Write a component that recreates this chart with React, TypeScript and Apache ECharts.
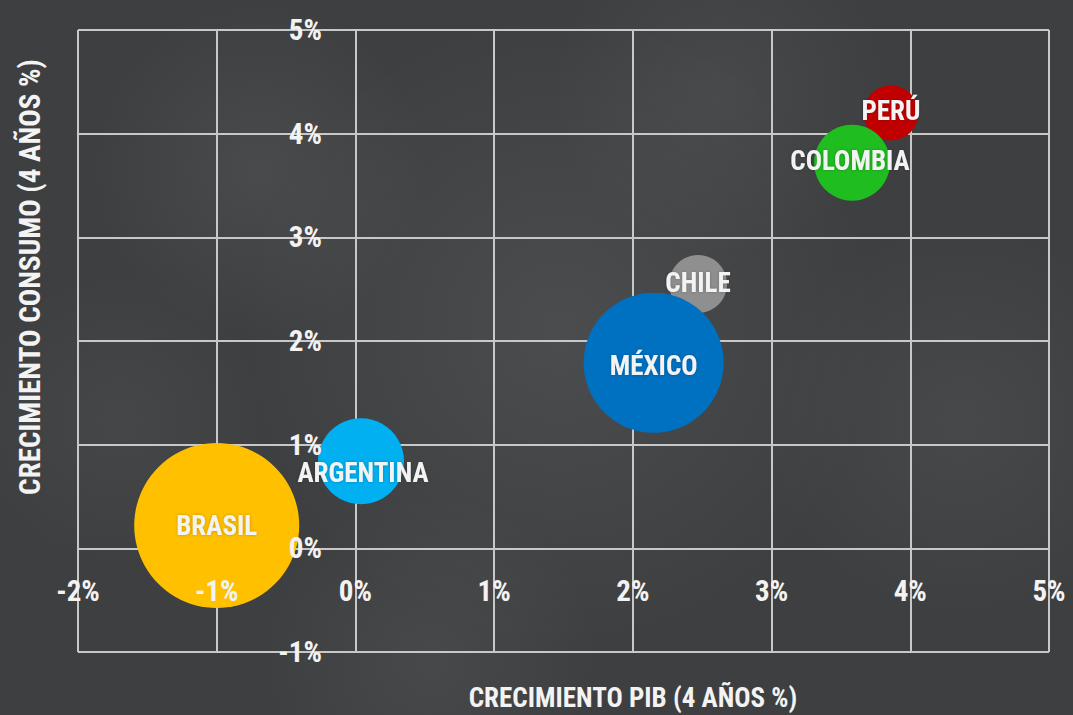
import React, { useEffect, useRef } from "react";
import * as echarts from "echarts";

// ---- Data ----
const countries = ["PERÚ", "CHILE", "COLOMBIA", "MÉXICO", "ARGENTINA", "BRASIL"];
const gdpGrowth = [3.86, 2.47, 3.58, 2.15, 0.04, -1.0]; // x, %
const consumptionGrowth = [4.2, 2.55, 3.72, 1.79, 0.84, 0.22]; // y, %
const bubbleSize = [55, 58, 76, 140, 86, 165];
const bubbleColors = ["#c00000", "#8f8f8f", "#1fbd1f", "#0070c0", "#00b0f0", "#ffc000"];
const labelOffsets = [[0, -2], [0, -1], [-2, -2], [0, 3], [2, 12], [0, 0]];

const xMin = -2, xMax = 5, yMin = -1, yMax = 5, tickStep = 1;
const xAxisTitle = "CRECIMIENTO PIB (4 AÑOS %)";
const yAxisTitle = "CRECIMIENTO CONSUMO (4 AÑOS %)";

const FONT = "'Roboto Condensed', 'Open Sans Condensed', sans-serif";
const TEXT_COLOR = "#f3f3f3";

const clouds = [
  { x: 560, y: 330, r: 320, a: 0.07 },
  { x: 260, y: 170, r: 170, a: 0.06 },
  { x: 960, y: 420, r: 200, a: 0.05 },
  { x: 720, y: 90, r: 170, a: 0.05 },
  { x: 430, y: 660, r: 170, a: 0.05 },
  { x: 120, y: 420, r: 150, a: 0.04 },
];

export default function App() {
  const ref = useRef<HTMLDivElement>(null);

  useEffect(() => {
    if (!ref.current) return;
    const chart = echarts.init(ref.current, undefined, { renderer: "svg" });

    const data = countries.map((name, i) => ({
      name,
      value: [gdpGrowth[i], consumptionGrowth[i], bubbleSize[i]],
      itemStyle: { color: bubbleColors[i], opacity: 1 },
      label: { offset: labelOffsets[i] },
    }));

    const tickLabel = {
      show: true,
      color: TEXT_COLOR,
      fontFamily: FONT,
      fontWeight: "bold" as const,
      fontSize: 29,
      formatter: (v: number) => `${v}%`,
    };

    const hidden = { show: false };
    const gridLine = { show: true, lineStyle: { color: "#c8c8c8", width: 2 } };

    chart.setOption({
      animation: false,
      backgroundColor: "#3e3f41",
      grid: {
        left: 78,
        right: 24,
        top: 30,
        bottom: 63,
        containLabel: false,
        outerBoundsMode: "none",
      },
      xAxis: [
        {
          type: "value",
          min: xMin,
          max: xMax,
          interval: tickStep,
          z: 0,
          axisLine: { show: false, onZero: false },
          axisTick: hidden,
          axisLabel: hidden,
          splitLine: gridLine,
        },
        {
          type: "value",
          min: xMin,
          max: xMax,
          interval: tickStep,
          position: "bottom",
          offset: -104,
          z: 10,
          axisLine: { show: false, onZero: false },
          axisTick: hidden,
          splitLine: hidden,
          axisLabel: { ...tickLabel, margin: 28 },
        },
      ],
      yAxis: [
        {
          type: "value",
          min: yMin,
          max: yMax,
          interval: tickStep,
          z: 0,
          axisLine: { show: false, onZero: false },
          axisTick: hidden,
          axisLabel: hidden,
          splitLine: gridLine,
        },
        {
          type: "value",
          min: yMin,
          max: yMax,
          interval: tickStep,
          position: "left",
          offset: -277,
          z: 10,
          axisLine: { show: false, onZero: false },
          axisTick: hidden,
          splitLine: hidden,
          axisLabel: { ...tickLabel, margin: 33, padding: [0, 0, 3, 0] },
        },
      ],
      graphic: [
        ...clouds.map((c) => ({
          type: "circle",
          z: -1,
          silent: true,
          shape: { cx: c.x, cy: c.y, r: c.r },
          style: {
            fill: new echarts.graphic.RadialGradient(0.5, 0.5, 0.5, [
              { offset: 0, color: `rgba(255,255,255,${c.a})` },
              { offset: 1, color: "rgba(255,255,255,0)" },
            ]),
          },
        })),
        {
          type: "text",
          z: 100,
          x: 633,
          y: 698,
          style: {
            text: xAxisTitle,
            fill: TEXT_COLOR,
            font: `bold 27px ${FONT}`,
            textAlign: "center",
            textVerticalAlign: "middle",
          },
        },
        {
          type: "text",
          z: 100,
          x: 30,
          y: 277,
          rotation: Math.PI / 2,
          style: {
            text: yAxisTitle,
            fill: TEXT_COLOR,
            font: `bold 29px ${FONT}`,
            textAlign: "center",
            textVerticalAlign: "middle",
          },
        },
      ],
      series: [
        {
          type: "scatter",
          xAxisIndex: 0,
          yAxisIndex: 0,
          z: 5,
          symbol: "circle",
          symbolSize: (v: number[]) => v[2],
          data,
          label: {
            show: true,
            position: "inside",
            formatter: (p: any) => p.name,
            color: TEXT_COLOR,
            fontFamily: FONT,
            fontWeight: "bold",
            fontSize: 27,
            textShadowColor: "rgba(0,0,0,0.25)",
            textShadowBlur: 3,
          },
          emphasis: { disabled: true },
        },
      ],
    });

    return () => chart.dispose();
  }, []);

  return (
    <div
      ref={ref}
      style={{ position: "fixed", left: 0, top: 0, width: 1073, height: 715 }}
    />
  );
}
